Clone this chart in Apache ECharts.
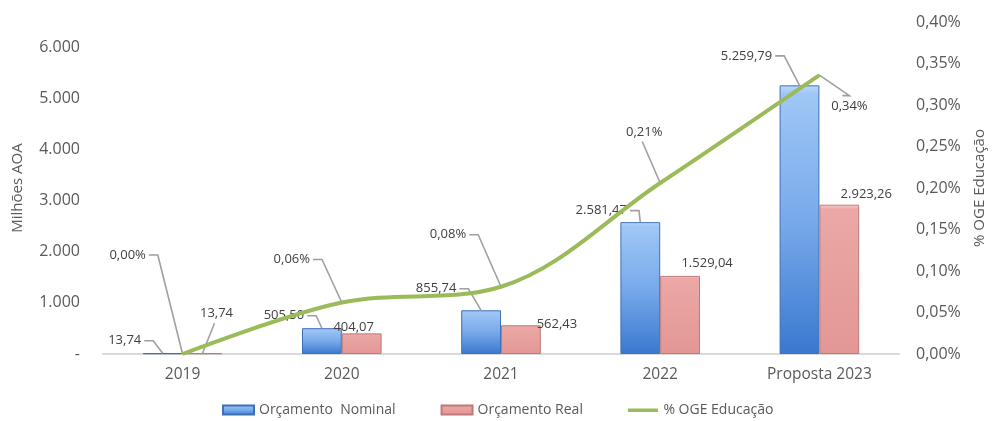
<!DOCTYPE html>
<html><head><meta charset="utf-8">
<script src="https://cdn.jsdelivr.net/npm/echarts@6/dist/echarts.min.js"></script>
<style>html,body{margin:0;padding:0;background:#fff}#c{width:995px;height:421px}</style>
</head><body><div id="c"></div>
<script>
// ---- data ----
const categories = ['2019', '2020', '2021', '2022', 'Proposta 2023'];
const nominal = [13.74, 505.50, 855.74, 2581.47, 5259.79];
const real = [13.74, 404.07, 562.43, 1529.04, 2923.26];
const pctOGE = [0.0000, 0.00062, 0.00081, 0.00206, 0.00336];
const leftTicks = [0, 1000, 2000, 3000, 4000, 5000, 6000];
const seriesNames = ['Orçamento  Nominal', 'Orçamento Real', '% OGE Educação'];

// ---- formatting helpers ----
function fmtNum(v, dec) {
  const s = v.toFixed(dec);
  const parts = s.split('.');
  const int = parts[0].replace(/\B(?=(\d{3})+(?!\d))/g, '.');
  return dec > 0 ? int + ',' + parts[1] : int;
}
function fmtPct(v) { return (v * 100).toFixed(2).replace('.', ',') + '%'; }

// ---- label placement (style only) ----
const nomOff = [[-38, -1], [-38, -1], [-45, -10], [-39, 0], [-53, -18]];
const realOff = [[14, -28], [-8, 5], [36, 11], [27, -1], [27, 1]];
const pctOff = [[-55, -87], [-50, -31], [-53, -40], [-16, -39], [30, 43]];
const nomGuide = ['r', 'r', 'r', 'r', 'r'];
const realGuide = ['b', 'n', 'n', 'n', 'n'];
const pctGuide = ['r', 'r', 'r', 'b', 't'];

const FONT = '"Open Sans", "Noto Sans", Arial, sans-serif';
const LABEL_SIZE = 13;
const labelText = { fontFamily: FONT, fontSize: LABEL_SIZE, color: '#404040' };
const GUIDE_COLOR = '#a0a0a0';

const measureCtx = document.createElement('canvas').getContext('2d');
function textWidth(str) {
  measureCtx.font = LABEL_SIZE + 'px ' + FONT;
  return measureCtx.measureText(str).width;
}

// Guide line (leader) drawn through the axes' own coordinate system.
// barShift: -1 left bar, +1 right bar, 0 point on the line.
function guideSeries(name, values, yAxisIndex, offsets, kinds, barShift, fmt) {
  return {
    name: name, type: 'custom', yAxisIndex: yAxisIndex, z: 4, silent: true,
    data: values.map((v, i) => [i, v]),
    renderItem: function (params, api) {
      const i = params.dataIndex;
      const k = kinds[i];
      if (k === 'n') return null;
      const pt = api.coord([api.value(0), api.value(1)]);
      const band = api.size([1, 0])[0];
      const tx = pt[0] + barShift * band / 8;
      const ty = pt[1];
      const w = textWidth(fmt(values[i]));
      const h = LABEL_SIZE;
      const cx = tx + offsets[i][0];
      const cy = ty - (barShift === 0 ? 0.5 : 0) - 5 - h / 2 + offsets[i][1];
      let pts;
      if (k === 'r') {
        const x0 = cx + w / 2 + 3;
        pts = [[x0, cy], [x0 + 9, cy], [tx, ty]];
      } else if (k === 'b') {
        pts = [[cx - 2, cy + h / 2 + 3], [tx, ty]];
      } else {
        pts = [[cx - 7, cy - h / 2 - 4], [cx, cy - h / 2 - 4], [tx, ty]];
      }
      return {
        type: 'polyline', shape: { points: pts },
        style: { stroke: GUIDE_COLOR, lineWidth: 1.6, fill: null }
      };
    }
  };
}

const chart = echarts.init(document.getElementById('c'));
chart.setOption({
  animation: false,
  backgroundColor: '#ffffff',
  grid: { left: 103, right: 87, top: 22, bottom: 67, containLabel: false },
  legend: {
    data: [
      { name: seriesNames[0], icon: 'rect' },
      { name: seriesNames[1], icon: 'rect' },
      { name: seriesNames[2], icon: 'path://M0,3h30v3.6h-30zM0,0h0.01v0.01h-0.01zM0,9h0.01v0.01h-0.01z' }
    ],
    top: 398, left: 217,
    itemWidth: 31, itemHeight: 9, itemGap: 45,
    textStyle: { fontFamily: FONT, fontSize: 14, color: '#595959' }
  },
  xAxis: {
    type: 'category', data: categories,
    axisLine: { lineStyle: { color: '#d9d9d9', width: 2 } },
    axisTick: { show: false },
    axisLabel: { fontFamily: FONT, fontSize: 15.5, color: '#595959', margin: 13 }
  },
  yAxis: [
    {
      type: 'value', min: 0, max: 6500, interval: 1000,
      name: 'Milhões AOA', nameLocation: 'middle', nameGap: 78, nameRotate: 90,
      nameTextStyle: { fontFamily: FONT, fontSize: 15, color: '#595959' },
      axisLine: { show: false }, axisTick: { show: false }, splitLine: { show: false },
      axisLabel: {
        fontFamily: FONT, fontSize: 16, color: '#595959', margin: 23,
        formatter: function (v) {
          if (v === 0) return '-';
          return leftTicks.indexOf(v) >= 0 ? fmtNum(v, 0) : '';
        }
      }
    },
    {
      type: 'value', min: 0, max: 0.004, interval: 0.0005,
      name: '% OGE Educação', nameLocation: 'middle', nameGap: 73, nameRotate: 90,
      nameTextStyle: { fontFamily: FONT, fontSize: 15, color: '#595959' },
      axisLine: { show: false }, axisTick: { show: false }, splitLine: { show: false },
      axisLabel: { fontFamily: FONT, fontSize: 16, color: '#595959', margin: 17, formatter: fmtPct }
    }
  ],
  series: [
    {
      name: seriesNames[0], type: 'bar', data: nominal,
      barCategoryGap: '50%', barGap: '0%',
      itemStyle: {
        color: new echarts.graphic.LinearGradient(0, 0, 0, 1, [
          { offset: 0, color: '#bcdafb' }, { offset: 0.03, color: '#a0c7f6' },
          { offset: 0.5, color: '#78aaeb' }, { offset: 1, color: '#3a78ce' }
        ]),
        borderColor: '#3d70b5', borderWidth: 1
      },
      label: Object.assign({ show: true, position: 'top', distance: 5, formatter: p => fmtNum(p.value, 2) }, labelText),
      labelLayout: p => ({ dx: nomOff[p.dataIndex][0], dy: nomOff[p.dataIndex][1] })
    },
    {
      name: seriesNames[1], type: 'bar', data: real,
      itemStyle: {
        color: new echarts.graphic.LinearGradient(0, 0, 0, 1, [
          { offset: 0, color: '#f8d0ce' }, { offset: 0.03, color: '#eba8a6' },
          { offset: 1, color: '#e29795' }
        ]),
        borderColor: '#c07977', borderWidth: 1
      },
      label: Object.assign({ show: true, position: 'top', distance: 5, formatter: p => fmtNum(p.value, 2) }, labelText),
      labelLayout: p => ({ dx: realOff[p.dataIndex][0], dy: realOff[p.dataIndex][1] })
    },
    {
      name: seriesNames[2], type: 'line', yAxisIndex: 1, data: pctOGE,
      smooth: 0.35, symbol: 'circle', symbolSize: 1, showSymbol: true,
      lineStyle: { color: '#9bbb59', width: 4 },
      itemStyle: { color: '#9bbb59' },
      label: Object.assign({ show: true, position: 'top', distance: 5, formatter: p => fmtPct(p.value) }, labelText),
      labelLayout: p => ({ dx: pctOff[p.dataIndex][0], dy: pctOff[p.dataIndex][1] }),
      z: 5
    },
    guideSeries('guideNominal', nominal, 0, nomOff, nomGuide, -1, v => fmtNum(v, 2)),
    guideSeries('guideReal', real, 0, realOff, realGuide, 1, v => fmtNum(v, 2)),
    guideSeries('guidePct', pctOGE, 1, pctOff, pctGuide, 0, fmtPct)
  ]
});
</script>
</body></html>
